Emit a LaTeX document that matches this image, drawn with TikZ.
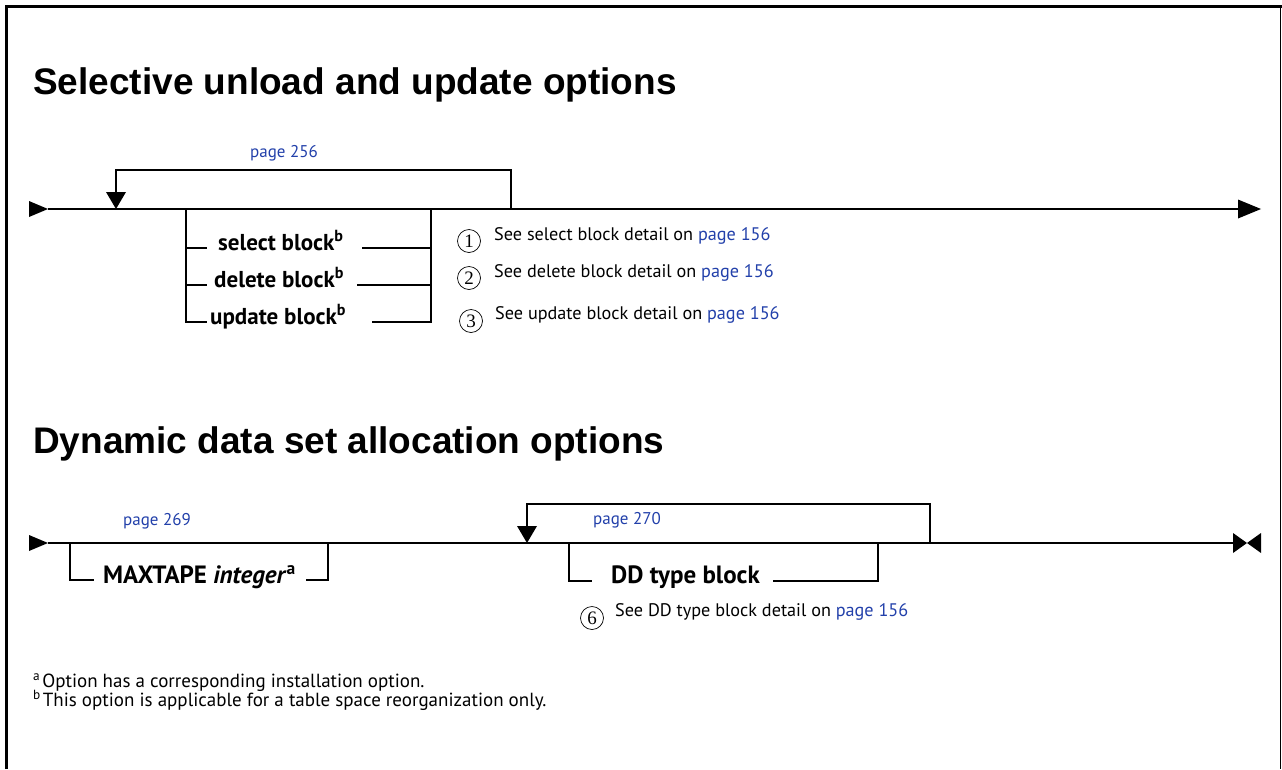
\documentclass[tikz,border=0pt]{standalone}
\usepackage{fontspec}
\setmainfont{PT Sans}
\newfontfamily\headfont{Liberation Sans}
\newfontfamily\numfont{Liberation Serif}
\definecolor{linkblue}{RGB}{34,64,170}
\begin{document}
\begin{tikzpicture}[x=1pt,y=-1pt,
  rail/.style={line width=2pt},
  frame/.style={line width=3pt},
  heading/.style={font=\headfont\bfseries\fontsize{37}{40}\selectfont, inner sep=0pt, anchor=base west},
  item/.style={font=\bfseries\fontsize{23}{26}\selectfont, inner sep=0pt, anchor=mid west},
  bigitem/.style={item, font=\bfseries\fontsize{25}{28}\selectfont},
  note/.style={font=\fontsize{18.2}{22}\selectfont, inner sep=0pt, anchor=mid west},
  foot/.style={font=\fontsize{19}{16}\selectfont, inner sep=0pt, anchor=base west},
  ref/.style={font=\fontsize{17}{20}\selectfont, text=linkblue, inner sep=0pt},
  numring/.style={circle, draw, line width=0.7pt, minimum size=23pt, inner sep=0pt, font=\numfont\fontsize{19}{19}\selectfont},
  tip/.style={fill=black, draw=none}
]
\useasboundingbox (0,0) rectangle (1282,769);

% page frame: heavy left and top rules, light right rule
\draw[frame] (6.5,769) -- (6.5,6.5) -- (1282,6.5);
\draw[line width=1.5pt] (1280.5,6.5) -- (1280.5,769);

% ---------- Selective unload and update options ----------
\node[heading] (h1) at (33,94) {Selective unload and update options};

\coordinate (a-in)    at (48,209);
\coordinate (a-out)   at (1238,209);
\coordinate (a-back)  at (116,209);
\coordinate (a-rep)   at (511,209);
\coordinate (a-top)   at (116,170);
\coordinate (a-chl)   at (186,209);
\coordinate (a-chr)   at (431,209);

\draw[rail] (a-in) -- (a-out);
\fill[tip] (a-in) -- ++(-19,-8) -- ++(0,16) -- cycle;
\fill[tip] (a-out) -- ++(0,-9.5) -- ++(23,9.5) -- ++(-23,9.5) -- cycle;

% repeat loop
\draw[rail] (a-rep) |- (a-top) -- ++(0,22);
\fill[tip] (a-back) -- ++(-10,-17) -- ++(20,0) -- cycle;
\node[ref] (p256) at (284,153) {page 256};

% choice of blocks
\node[item] (sel) at (218,248) {select block\textsuperscript{b}};
\node[item] (del) at (214,285) {delete block\textsuperscript{b}};
\node[item] (upd) at (210,322) {update block\textsuperscript{b}};

\coordinate (sel-l) at (207,248); \coordinate (sel-r) at (362,248);
\coordinate (del-l) at (207,285); \coordinate (del-r) at (357,285);
\coordinate (upd-l) at (207,322); \coordinate (upd-r) at (372,322);

\draw[rail] (a-chl) |- (upd-l);
\draw[rail] (a-chl |- sel-l) -- (sel-l);
\draw[rail] (a-chl |- del-l) -- (del-l);
\draw[rail] (a-chr) |- (upd-r);
\draw[rail] (a-chr |- sel-r) -- (sel-r);
\draw[rail] (a-chr |- del-r) -- (del-r);

% notes
\node[numring] (n1) at (469,241) {1};
\node[numring] (n2) at (469,278) {2};
\node[numring] (n3) at (471,321) {3};
\node[note] (t1) at (494,238) {See select block detail on \textcolor{linkblue}{page 156}};
\node[note] (t2) at (494,275) {See delete block detail on \textcolor{linkblue}{page 156}};
\node[note] (t3) at (495,317) {See update block detail on \textcolor{linkblue}{page 156}};

% ---------- Dynamic data set allocation options ----------
\node[heading] (h2) at (33,453) {Dynamic data set allocation options};

\coordinate (b-in)   at (48,543);
\coordinate (b-out)  at (1233,543);
\coordinate (b-mid)  at (1247,543);
\coordinate (b-ml)   at (70,543);
\coordinate (b-mr)   at (328,543);
\coordinate (b-back) at (527,543);
\coordinate (b-rep)  at (930,543);
\coordinate (b-top)  at (527,504);
\coordinate (b-dl)   at (569,543);
\coordinate (b-dr)   at (878,543);

\draw[rail] (b-in) -- (b-out);
\fill[tip] (b-in) -- ++(-19,-8) -- ++(0,16) -- cycle;
\fill[tip] (b-out) -- ++(0,-10) -- (b-mid) -- ++(-14,10) -- cycle;
\fill[tip] (b-mid) -- ++(14,-10) -- ++(0,20) -- cycle;

% optional MAXTAPE
\node[ref] (p269) at (157,521) {page 269};
\node[bigitem] (maxt) at (103,581) {MAXTAPE \textit{integer}\textsuperscript{a}};
\coordinate (mx-l) at (94,580); \coordinate (mx-r) at (306,580);
\draw[rail] (b-ml) |- (mx-l);
\draw[rail] (mx-r) -| (b-mr);

% repeatable DD type block
\draw[rail] (b-rep) |- (b-top) -- ++(0,22);
\fill[tip] (b-back) -- ++(-10,-17) -- ++(20,0) -- cycle;
\node[ref] (p270) at (627,520) {page 270};
\node[bigitem] (dd) at (611,581) {DD type block};
\coordinate (dd-l) at (592,581); \coordinate (dd-r) at (773,581);
\draw[rail] (b-dl) |- (dd-l);
\draw[rail] (dd-r) -| (b-dr);

\node[numring] (n6) at (592,618) {6};
\node[note] (t6) at (615,614) {See DD type block detail on \textcolor{linkblue}{page 156}};

% footnotes
\node[foot] (fa) at (33,687) {\textsuperscript{a}\kern2pt Option has a corresponding installation option.};
\node[foot] (fb) at (33,706) {\textsuperscript{b}\kern2pt This option is applicable for a table space reorganization only.};
\end{tikzpicture}
\end{document}
